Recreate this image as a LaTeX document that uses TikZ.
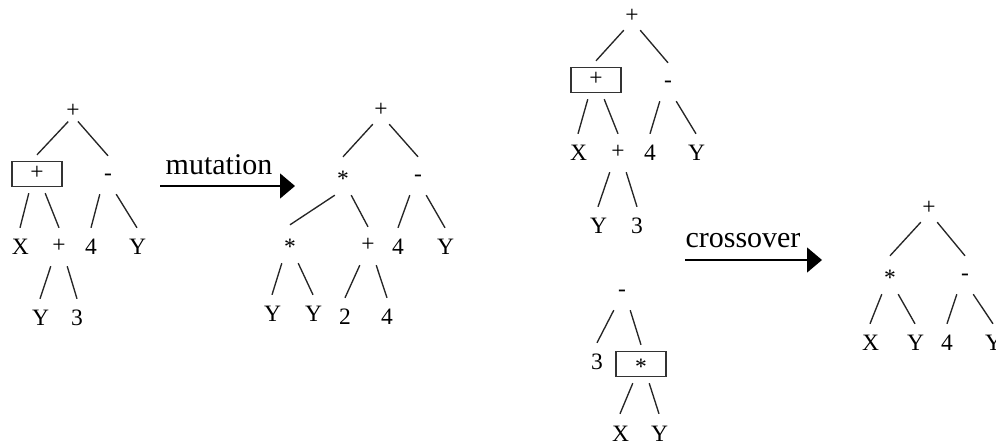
\documentclass[tikz,border=0pt]{standalone}
\usepackage{fontspec}
\setmainfont{Liberation Serif}
\usetikzlibrary{arrows.meta}
\newcommand{\gplus}{\raisebox{2.3pt}{+}}
\newcommand{\gminus}{\raisebox{2.9pt}{-}}
\newcommand{\gast}{\raisebox{-2.6pt}{*}}
\begin{document}
\begin{tikzpicture}[x=1pt,y=-1pt,
  tn/.style={inner xsep=0pt, inner ysep=11pt, text width=16pt, align=center,
    text height=16pt, text depth=0pt, font=\fontsize{23.5}{25}\selectfont},
  rt/.style={tn, inner ysep=5pt},
  edg/.style={line width=1.35pt, black!85},
  boxfr/.style={draw=black!80, line width=1.35pt, minimum width=50pt, minimum height=25pt, inner sep=0pt},
  lab/.style={anchor=base, inner sep=0pt, font=\fontsize{30}{32}\selectfont},
  arr/.style={line width=1.35pt, -{Triangle[length=15pt,width=25pt]}}
]
\useasboundingbox (0,0) rectangle (996,446);

% ---- Tree 1 (before mutation)
\node[rt] (a0) at (73,112) {\gplus};
\node[tn] (a1) at (37,174) {\gplus};
\node[tn] (a2) at (108,175) {\gminus};
\node[tn] (a3) at (20,247) {X};
\node[tn] (a4) at (59,247) {\gplus};
\node[tn] (a5) at (91,247) {4};
\node[tn] (a6) at (137,247) {Y};
\node[tn] (a7) at (40,318) {Y};
\node[tn] (a8) at (77,318) {3};
\node[boxfr] (fa) at (a1) {};
\draw[edg, shorten <=-5pt] (a0.south west) -- (a1.north);
\draw[edg, shorten <=-5pt] (a0.south east) -- (a2.north);
\draw[edg] (a1.south west) -- (a3.north);
\draw[edg] (a1.south east) -- (a4.north);
\draw[edg] (a2.south west) -- (a5.north);
\draw[edg] (a2.south east) -- (a6.north);
\draw[edg] (a4.south west) -- (a7.north);
\draw[edg] (a4.south east) -- (a8.north);

% ---- mutation arrow
\coordinate (m0) at (160,186);
\coordinate (m1) at (295,186);
\draw[arr] (m0) -- (m1);
\node[lab] (ml) at (219,175) {mutation};

% ---- Tree 2 (after mutation)
\node[rt] (b0) at (381,111) {\gplus};
\node[tn] (b1) at (343,176) {\gast};
\node[tn] (b2) at (418,176) {\gminus};
\node[tn] (b3) at (290,244) {\gast};
\node[tn] (b4) at (368,246) {\gplus};
\node[tn] (b5) at (398,247) {4};
\node[tn] (b6) at (445,247) {Y};
\node[tn] (b7) at (272,314) {Y};
\node[tn] (b8) at (313,314) {Y};
\node[tn] (b9) at (345,317) {2};
\node[tn] (b10) at (387,317) {4};
\draw[edg] (b0.south west) -- (b1.north);
\draw[edg] (b0.south east) -- (b2.north);
\draw[edg] (b1.south west) -- (b3.north);
\draw[edg] (b1.south east) -- (b4.north);
\draw[edg] (b2.south west) -- (b5.north);
\draw[edg] (b2.south east) -- (b6.north);
\draw[edg] (b3.south west) -- (b7.north);
\draw[edg] (b3.south east) -- (b8.north);
\draw[edg] (b4.south west) -- (b9.north);
\draw[edg] (b4.south east) -- (b10.north);

% ---- Tree 3 (parent 1)
\node[rt] (c0) at (632,17) {\gplus};
\node[tn] (c1) at (596,80) {\gplus};
\node[tn] (c2) at (668,82) {\gminus};
\node[tn] (c3) at (578,153) {X};
\node[tn] (c4) at (618,153) {\gplus};
\node[tn] (c5) at (650,153) {4};
\node[tn] (c6) at (696,153) {Y};
\node[tn] (c7) at (598,226) {Y};
\node[tn] (c8) at (637,226) {3};
\node[boxfr] (fc) at (c1) {};
\draw[edg] (c0.south west) -- (c1.north);
\draw[edg] (c0.south east) -- (c2.north);
\draw[edg] (c1.south west) -- (c3.north);
\draw[edg] (c1.south east) -- (c4.north);
\draw[edg] (c2.south west) -- (c5.north);
\draw[edg] (c2.south east) -- (c6.north);
\draw[edg] (c4.south west) -- (c7.north);
\draw[edg] (c4.south east) -- (c8.north);

% ---- Tree 4 (parent 2)
\node[tn] (d0) at (622,291) {\gminus};
\node[tn] (d1) at (597,362) {3};
\node[tn] (d2) at (641,364) {\gast};
\node[tn] (d3) at (620,433) {X};
\node[tn] (d4) at (659,433) {Y};
\node[boxfr] (fd) at (d2) {};
\draw[edg] (d0.south west) -- (d1.north);
\draw[edg] (d0.south east) -- (d2.north);
\draw[edg] (d2.south west) -- (d3.north);
\draw[edg] (d2.south east) -- (d4.north);

% ---- crossover arrow
\coordinate (x0) at (685,260);
\coordinate (x1) at (822,260);
\draw[arr] (x0) -- (x1);
\node[lab] (xl) at (743,248) {crossover};

% ---- Tree 5 (offspring)
\node[rt] (e0) at (929,209) {\gplus};
\node[tn] (e1) at (890,275) {\gast};
\node[tn] (e2) at (965,275) {\gminus};
\node[tn] (e3) at (870,343) {X};
\node[tn] (e4) at (915,343) {Y};
\node[tn] (e5) at (947,343) {4};
\node[tn] (e6) at (993,343) {Y};
\draw[edg] (e0.south west) -- (e1.north);
\draw[edg] (e0.south east) -- (e2.north);
\draw[edg] (e1.south west) -- (e3.north);
\draw[edg] (e1.south east) -- (e4.north);
\draw[edg] (e2.south west) -- (e5.north);
\draw[edg] (e2.south east) -- (e6.north);
\end{tikzpicture}
\end{document}
